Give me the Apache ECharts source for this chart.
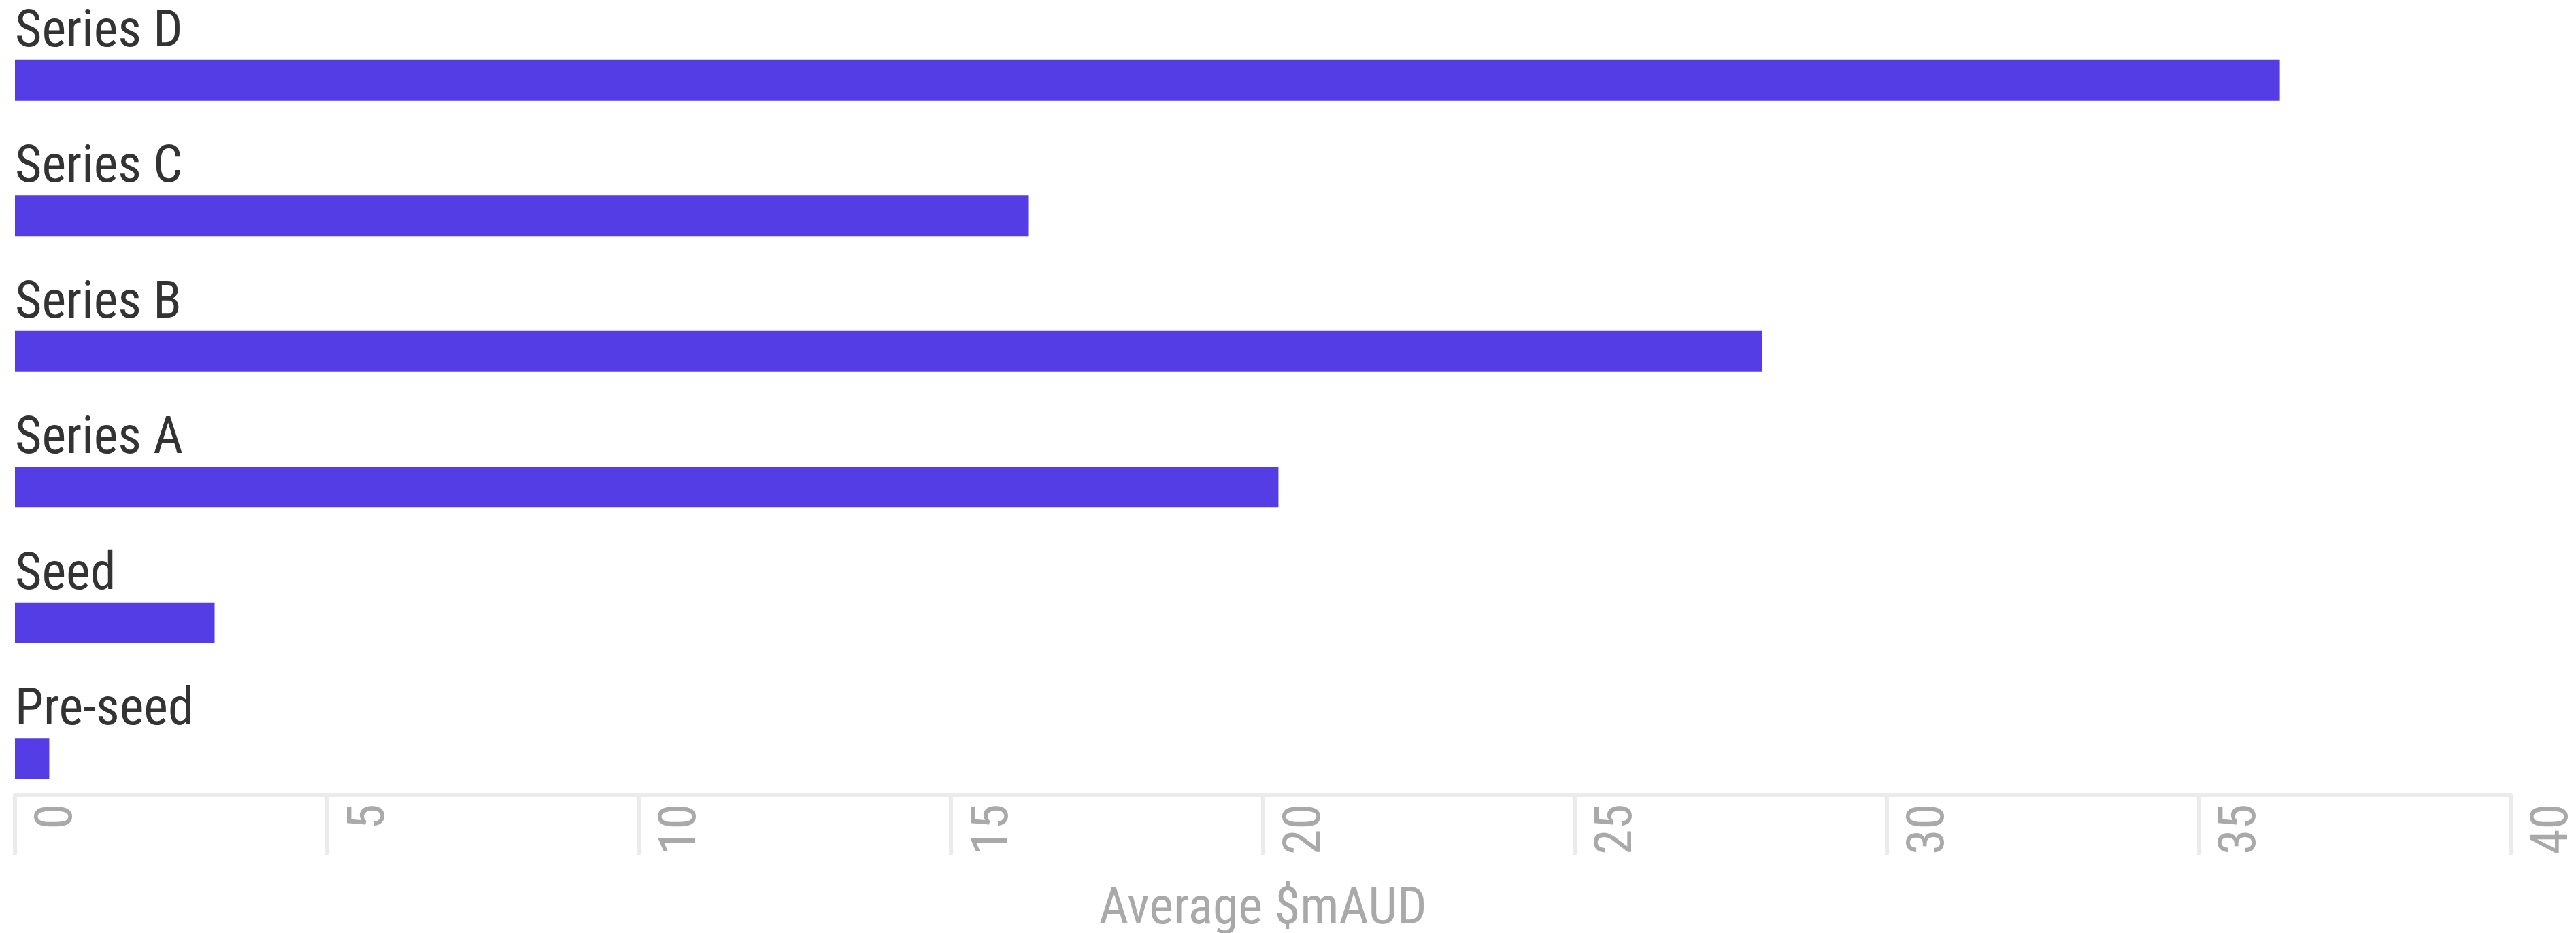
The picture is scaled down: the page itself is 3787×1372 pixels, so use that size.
<!DOCTYPE html>
<html>
<head>
<meta charset="utf-8">
<script src="https://cdn.jsdelivr.net/npm/echarts@6/dist/echarts.min.js"></script>
<style>
html,body{margin:0;padding:0;background:#fff;}
#chart{width:3787px;height:1372px;}
</style>
</head>
<body>
<div id="chart"></div>
<script>
const categories = ['Series D', 'Series C', 'Series B', 'Series A', 'Seed', 'Pre-seed'];
const values = [36.3, 16.25, 28.0, 20.25, 3.2, 0.55];
const xTicks = [0, 5, 10, 15, 20, 25, 30, 35, 40];
const axisTitle = 'Average $mAUD';

const FONT = "'Roboto Condensed', 'Liberation Sans Narrow', 'DejaVu Sans Condensed', Roboto, sans-serif";

const chart = echarts.init(document.getElementById('chart'), null, {renderer: 'canvas'});
chart.setOption({
  animation: false,
  backgroundColor: '#ffffff',
  grid: {left: 22, right: 96, top: 18, bottom: 1372 - 1215, containLabel: false, outerBoundsMode: 'none'},
  xAxis: {
    type: 'value',
    min: xTicks[0],
    max: xTicks[xTicks.length - 1],
    interval: xTicks[1] - xTicks[0],
    offset: -46,
    name: axisTitle,
    nameLocation: 'middle',
    nameGap: 132,
    nameTextStyle: {color: '#a9a9a9', fontSize: 76, fontFamily: FONT},
    axisLine: {show: true, lineStyle: {color: '#ebebeb', width: 6}},
    axisTick: {show: true, length: 88, lineStyle: {color: '#ebebeb', width: 6}},
    splitLine: {show: false},
    axisLabel: {
      rotate: 90,
      margin: 13,
      verticalAlign: 'top',
      padding: [26, 0, 0, 0],
      color: '#a9a9a9',
      fontSize: 76,
      fontFamily: FONT
    }
  },
  yAxis: {
    type: 'category',
    inverse: true,
    data: categories,
    axisLine: {show: false},
    axisTick: {show: false},
    axisLabel: {show: false},
    splitLine: {show: false}
  },
  series: [{
    type: 'bar',
    data: values,
    barWidth: 60,
    itemStyle: {color: '#553de6'},
    label: {
      show: true,
      formatter: '{b}',
      position: [0, -1],
      align: 'left',
      verticalAlign: 'bottom',
      color: '#333333',
      fontSize: 76,
      fontFamily: FONT
    }
  }]
});
</script>
</body>
</html>
